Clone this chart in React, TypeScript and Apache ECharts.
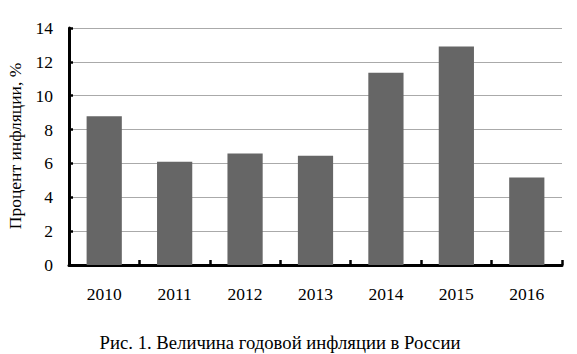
import React, { useEffect, useRef } from "react";
import * as echarts from "echarts";

const categories = ["2010", "2011", "2012", "2013", "2014", "2015", "2016"];
const inflation = [8.78, 6.1, 6.58, 6.45, 11.36, 12.9, 5.17];
const yAxisName = "Процент инфляции, %";
const caption = "Рис. 1. Величина годовой инфляции в России";

const FONT = "Liberation Serif";

export default function App() {
  const ref = useRef<HTMLDivElement>(null);
  useEffect(() => {
    if (!ref.current) return;
    const chart = echarts.init(ref.current, null, { renderer: "svg" });
    chart.setOption({
      animation: false,
      backgroundColor: "#ffffff",
      textStyle: { fontFamily: FONT },
      grid: { left: 69, right: 15, top: 28, bottom: 89, containLabel: false },
      xAxis: {
        type: "category",
        data: categories,
        boundaryGap: true,
        axisLine: { show: true, lineStyle: { color: "#000", width: 3 } },
        axisTick: { show: true, inside: true, length: 5, lineStyle: { color: "#000", width: 2.5 } },
        axisLabel: { color: "#000", fontFamily: FONT, fontSize: 17.5, margin: 20 },
        splitLine: { show: false },
      },
      yAxis: {
        type: "value",
        min: 0,
        max: 14,
        interval: 2,
        axisLine: { show: true, lineStyle: { color: "#000", width: 3 } },
        axisTick: { show: true, inside: true, length: 4, lineStyle: { color: "#000", width: 2.5 } },
        axisLabel: { color: "#000", fontFamily: FONT, fontSize: 17.5, margin: 16 },
        splitLine: { show: true, lineStyle: { color: "#aaaaaa", width: 1 } },
      },
      series: [
        {
          type: "bar",
          data: inflation,
          barWidth: "50%",
          itemStyle: { color: "#666666" },
          z: 1,
        },
      ],
      graphic: [
        {
          type: "text",
          x: 15,
          y: 146,
          rotation: Math.PI / 2,
          style: {
            text: yAxisName,
            fill: "#000",
            fontFamily: FONT,
            fontSize: 17.5,
            textAlign: "center",
            textVerticalAlign: "middle",
          },
        },
        {
          type: "text",
          x: 280,
          y: 342,
          style: {
            text: caption,
            fill: "#000",
            fontFamily: FONT,
            fontSize: 18.7,
            textAlign: "center",
            textVerticalAlign: "middle",
          },
        },
      ],
    });
    return () => chart.dispose();
  }, []);
  return (
    <div
      ref={ref}
      style={{ position: "fixed", left: 0, top: 0, width: 577, height: 354, background: "#fff" }}
    />
  );
}
